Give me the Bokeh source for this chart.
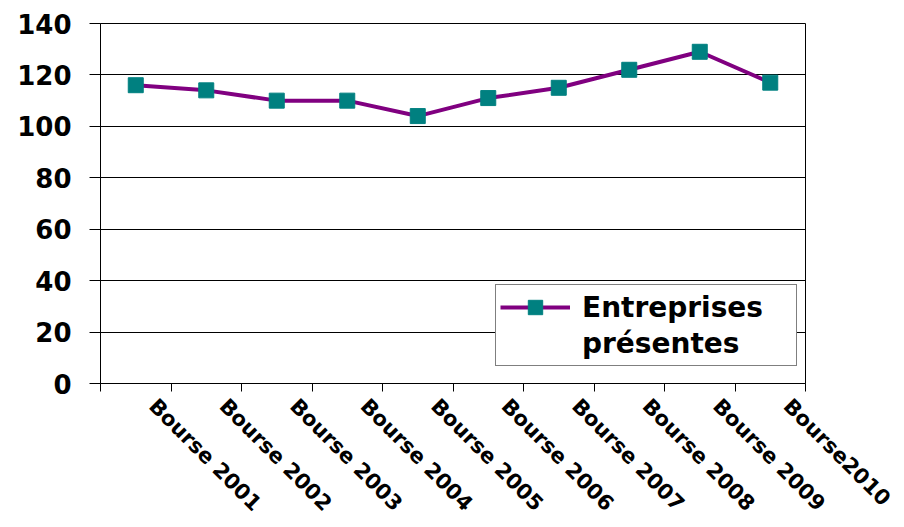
import math
from bokeh.plotting import figure
from bokeh.models import (Range1d, FixedTicker, Legend, LegendItem, LinearAxis, Grid)
from bokeh.embed import file_html
from bokeh.resources import INLINE

categories = ["Bourse 2001", "Bourse 2002", "Bourse 2003", "Bourse 2004", "Bourse 2005",
              "Bourse 2006", "Bourse 2007", "Bourse 2008", "Bourse 2009", "Bourse2010"]
values = [116, 114, 110, 110, 104, 111, 115, 122, 129, 117]
y_ticks = [0, 20, 40, 60, 80, 100, 120, 140]
legend_lines = ["Entreprises", "présentes"]

FONT = "DejaVu Sans"
n = len(categories)
xs = [i + 0.5 for i in range(n)]
label_pos = [i + 0.74 for i in range(n)]
boundaries = [float(i) for i in range(n + 1)]

p = figure(width=904, height=527, output_backend="svg", toolbar_location=None,
           x_range=Range1d(0, n), y_range=Range1d(0, 140),
           x_axis_type=None, y_axis_type=None,
           min_border_left=100, min_border_right=99, min_border_top=23, min_border_bottom=143)
p.outline_line_color = "black"
p.outline_line_width = 1
p.background_fill_color = "white"
p.border_fill_color = "white"

yaxis = LinearAxis(ticker=FixedTicker(ticks=y_ticks, minor_ticks=[]))
yaxis.major_tick_out = 11
yaxis.major_tick_in = 0
yaxis.major_tick_line_color = "black"
yaxis.axis_line_color = "black"
yaxis.major_label_standoff = 18
yaxis.major_label_text_font = FONT
yaxis.major_label_text_font_style = "bold"
yaxis.major_label_text_font_size = "26px"
yaxis.major_label_text_color = "black"
p.add_layout(yaxis, "left")

p.add_layout(Grid(dimension=1, ticker=yaxis.ticker, grid_line_color="black", grid_line_width=1))

xaxis = LinearAxis(ticker=FixedTicker(ticks=label_pos, minor_ticks=boundaries))
xaxis.major_label_overrides = {label_pos[i]: categories[i] for i in range(n)}
xaxis.major_tick_line_color = None
xaxis.major_tick_out = 0
xaxis.major_tick_in = 0
xaxis.minor_tick_line_color = "black"
xaxis.minor_tick_out = 8
xaxis.minor_tick_in = 0
xaxis.axis_line_color = "black"
xaxis.major_label_orientation = -math.pi / 4
xaxis.major_label_standoff = 11
xaxis.major_label_text_font = FONT
xaxis.major_label_text_font_style = "bold"
xaxis.major_label_text_font_size = "21px"
xaxis.major_label_text_color = "black"
p.add_layout(xaxis, "below")

ln = p.line(xs, values, line_color="#800080", line_width=4)
sc = p.scatter(xs, values, marker="square", size=15, fill_color="#008080", line_color="#008080")
dummy = p.scatter([], [], marker="square", size=1, fill_alpha=0, line_alpha=0)

legend = Legend(items=[LegendItem(label=legend_lines[0], renderers=[ln, sc]),
                       LegendItem(label=legend_lines[1], renderers=[dummy])],
                location=(395, 17))
legend.label_text_font = FONT
legend.label_text_font_style = "bold"
legend.label_text_font_size = "28px"
legend.label_text_color = "black"
legend.border_line_color = "black"
legend.border_line_width = 1
legend.background_fill_color = "white"
legend.background_fill_alpha = 1
legend.padding = 4
legend.spacing = 0
legend.margin = 0
legend.glyph_width = 70
legend.glyph_height = 36
legend.label_standoff = 12
legend.label_width = 210
legend.label_height = 28
p.add_layout(legend)

open("out.html", "w").write(file_html(p, INLINE))
